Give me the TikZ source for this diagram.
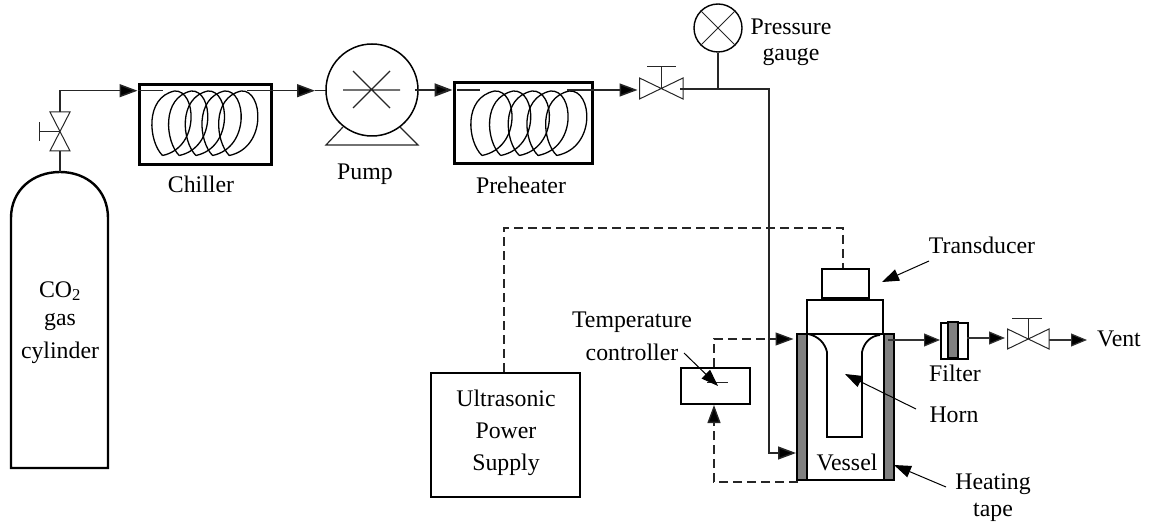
\documentclass[tikz,border=0pt]{standalone}
\usepackage{fontspec}
\setmainfont{Liberation Serif}
\usetikzlibrary{arrows.meta}
\tikzset{
  x=1pt,y=-1pt,
  pipe/.style={line width=1.5pt,black!85},
  flow/.style={pipe,-{Triangle[length=18pt,width=13pt,fill=black]}},
  thinflow/.style={line width=1.2pt,black!80,-{Triangle[length=16pt,width=13pt,fill=black]}},
  sig/.style={line width=1.3pt,black!85,dash pattern=on 9pt off 5pt},
  sigflow/.style={sig,-{Triangle[length=18pt,width=13pt,fill=black]}},
  box/.style={draw,line width=2.6pt,miter limit=10},
  eq/.style={draw,line width=2.2pt},
  vv/.style={line width=1pt,black!85},
  coil/.style={line width=1.3pt},
  lab/.style={inner sep=0pt,font=\fontsize{23.8}{28}\selectfont,align=center},
  tape/.style={draw,fill=black!50,line width=2pt},
  ptr/.style={line width=1pt,-{Triangle[length=17pt,width=12pt,fill=black]}}
}
\newcommand{\teardrops}[4]{% x0,y0,dx,sx
  \foreach \i in {0,...,4}{
    \draw[coil,shift={({#1+#3*\i},#2)},xscale=#4]
      (0,0) .. controls (-14,-14) and (-18,-58) .. (12,-64.5)
      .. controls (34,-66) and (38,-8) .. (0,0);
  }
}
\begin{document}
\begin{tikzpicture}
\useasboundingbox (0,0) rectangle (1157,529);
% cylinder
\draw[line width=2.4pt] (11,468) -- (11,218) .. controls (11,190) and (33,172) .. (60,172) coordinate (cyltop)
  .. controls (87,172) and (108,190) .. (108,218) -- (108,468) -- cycle;
\node[lab] (co2) at (60,291) {CO\textsubscript{2}};
\node[lab] (gas) at (60,322) {gas};
\node[lab] (cyl) at (60,353) {cylinder};
% valve 1
\coordinate (v1) at (60,132);
\draw[vv] (50,112) -- (70,112) -- (50,151) -- (70,151) -- cycle;
\draw[vv] (v1) -- (39,132) (39,122) -- (39,141);
\draw[pipe] (cyltop) -- (60,151);
\draw[flow] (60,112) -- (60,90.7) -- (137.5,90.7);
% chiller
\node[box,anchor=north west,inner sep=0pt] (chillerbox) at (138,83) {\rule{0pt}{80pt}\rule{132pt}{0pt}};
\teardrops{162.5}{155.5}{16.7}{1}
\draw[pipe] (138,90.7) -- (163,90.7);
\node[lab] (chiller) at (201,184) {Chiller};
\draw[flow] (247,90.7) -- (315,90.7);
\draw[pipe] (315,90.7) -- (326,90.7);
% pump
\node[circle,draw,line width=1.5pt,minimum size=92pt,inner sep=0pt] (pump) at (372,90) {};
\draw[line width=1.2pt,black!85] (343,90) -- (400,90) (353,71) -- (390,108) (353,108) -- (390,71);
\draw[line width=1.2pt,black!85] (343,127) -- (326,145) -- (418,145) -- (400,127);
\node[lab] (pumpl) at (365,174) {Pump};
\draw[flow,line width=2pt] (415,90) -- (452.5,90);
% preheater
\node[box,anchor=north west,inner sep=0pt] (preheatbox) at (453,81.5) {\rule{0pt}{81pt}\rule{138pt}{0pt}};
\teardrops{482}{155.5}{18.7}{1.05}
\draw[pipe] (457,90) -- (480,90);
\node[lab] (preheat) at (521,185) {Preheater};
\draw[flow] (567,90) -- (637.5,90);
% valve 2
\coordinate (v2) at (661,89);
\draw[vv] (639.5,78) -- (639.5,99) -- (683,78) -- (683,99) -- cycle;
\draw[vv] (v2) -- (661,67) (647,67) -- (676,67);
% gauge
\node[circle,draw,line width=1.4pt,minimum size=48pt,inner sep=0pt] (gauge) at (718,28) {};
\draw[vv] (gauge.north west) -- (gauge.south east) (gauge.north east) -- (gauge.south west);
\draw[pipe] (gauge.south) -- (718,89);
\node[lab] (pl) at (791,27) {Pressure};
\node[lab] (gl) at (791,57) {gauge};
\draw[flow] (680,89) -- (769,89) -- (769,453) -- (796,453);
% vessel assembly
\node[eq,anchor=north west,inner sep=0pt] (trans) at (821,268) {\rule{0pt}{29pt}\rule{47pt}{0pt}};
\node[eq,anchor=north west,inner sep=0pt] (upper) at (806,299) {\rule{0pt}{34pt}\rule{76pt}{0pt}};
\draw[tape] (796.5,334) rectangle (807,480);
\draw[tape] (884,334) rectangle (894,480);
\draw[line width=1.8pt] (807,480) -- (884,480);
\draw[line width=2.8pt] (806,334) -- (894,334);
\draw[line width=1.8pt] (808,334) .. controls (818,336) and (825,343) .. (827,352) -- (827,437) -- (862,437) -- (862,352)
  .. controls (864,343) and (870,336) .. (880,335);
\node[lab] (vessel) at (847,462) {Vessel};
\node[lab] (tl) at (982,245) {Transducer};
\node[lab] (hl) at (954,415) {Horn};
\node[lab] (htl) at (993,484) {Heating};
\node[lab] (ttl) at (993,512) {tape};
\coordinate (ta) at (929,261);
\draw[ptr] (ta) -- (882,282);
\coordinate (ha) at (916,409);
\draw[ptr] (ha) -- (845,374);
\coordinate (hta) at (946,487);
\draw[ptr] (hta) -- (894,465);
% ultrasonic
\node[eq,anchor=north west,inner sep=0pt] (us) at (430,372) {\rule{0pt}{124pt}\rule{149pt}{0pt}};
\node[lab] (usl1) at (506,398) {Ultrasonic};
\node[lab] (usl2) at (506,431) {Power};
\node[lab] (usl3) at (506,465) {Supply};
\draw[sig] (504,372) -- (504,228) -- (843,228) -- (843,268);
% temperature controller
\node[eq,anchor=north west,inner sep=0pt] (tc) at (680,367) {\rule{0pt}{36pt}\rule{69pt}{0pt}};
\node[lab] (tcl) at (632,322) {Temperature};
\node[lab] (tcl2) at (632,352) {controller};
\draw[vv] (707,382) -- (728,382);
\coordinate (tca) at (684,353);
\draw[ptr] (tca) -- (718,386);
\draw[sigflow] (714,367) -- (714,339) -- (793.5,339);
\draw[sigflow] (798,482) -- (714,482) -- (714,405);
% filter
\node[draw,line width=2pt,anchor=north west,inner sep=0pt] (filter) at (940,322) {\rule{0pt}{36pt}\rule{27pt}{0pt}};
\draw[fill=black!50,line width=1.6pt] (948,322) rectangle (958,358);
\node[lab] (fl) at (955,373) {Filter};
\draw[thinflow] (888,340) -- (940,340);
\draw[thinflow] (967,338) -- (1005,338);
% valve 3
\coordinate (v3) at (1028,339);
\draw[vv] (1007.5,329) -- (1007.5,349) -- (1049,329) -- (1049,349) -- cycle;
\draw[vv] (v3) -- (1028,319) (1012,319) -- (1042,319);
\draw[thinflow] (1049,340) -- (1087,340);
\node[lab] (vent) at (1119,339) {Vent};
\end{tikzpicture}
\end{document}
